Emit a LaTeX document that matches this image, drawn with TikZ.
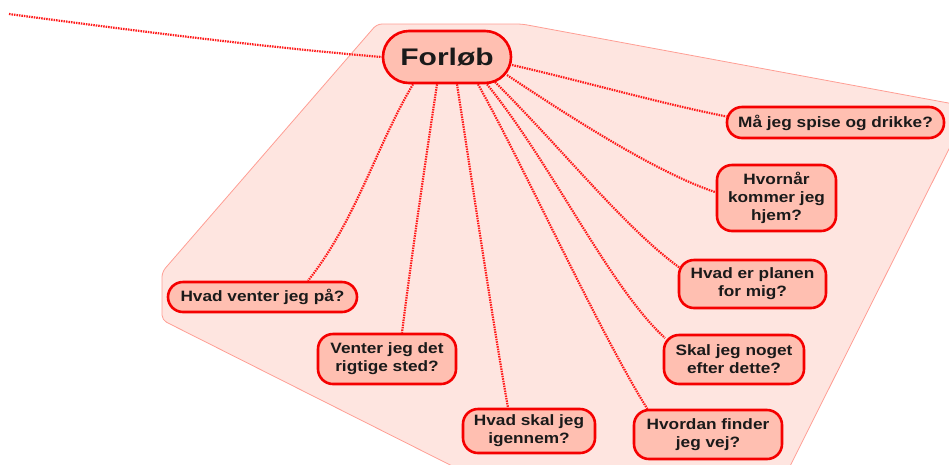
\documentclass[tikz,border=0pt]{standalone}
\usepackage{fontspec}
\usetikzlibrary{backgrounds}
\newfontfamily\nodefont[FakeStretch=1.15]{Liberation Sans}
\newfontfamily\rootfont[FakeStretch=1.25]{Liberation Sans}
\definecolor{zone}{HTML}{FEE5E0}
\definecolor{zoneedge}{HTML}{FF9E94}
\definecolor{topicfill}{HTML}{FFBFB1}
\definecolor{topicedge}{HTML}{F50000}
\definecolor{ink}{HTML}{1A1A1A}
\definecolor{linkred}{HTML}{FF1A1A}
\tikzset{
  topic/.style={draw=topicedge, line width=2.6pt, fill=topicfill, rounded corners=15pt,
    align=center, inner sep=0pt, text=ink,
    font=\nodefont\bfseries\fontsize{15}{18}\selectfont},
  root/.style={topic, rounded corners=26pt,
    font=\rootfont\bfseries\fontsize{24}{28}\selectfont},
  link/.style={draw=linkred, line width=2.2pt, dash pattern=on 1.5pt off 1pt},
}
\begin{document}
\begin{tikzpicture}[x=1pt,y=-1pt]
\useasboundingbox (0,0) rectangle (949,464);

% topics
\node[root, minimum width=128pt, minimum height=52pt] (f) at (447,57) {Forløb};
\node[topic, minimum width=217pt, minimum height=31pt, rounded corners=15pt] (q1) at (835.5,122.5) {Må jeg spise og drikke?};
\node[topic, minimum width=119pt, minimum height=66pt] (q2) at (776.5,198) {Hvornår\\kommer jeg\\hjem?};
\node[topic, minimum width=147pt, minimum height=48pt] (q3) at (752.5,284) {Hvad er planen\\for mig?};
\node[topic, minimum width=140pt, minimum height=49pt] (q4) at (734,359.5) {Skal jeg noget\\efter dette?};
\node[topic, minimum width=148pt, minimum height=49pt] (q5) at (708,434.5) {Hvordan finder\\jeg vej?};
\node[topic, minimum width=132pt, minimum height=44pt] (q6) at (529,431) {Hvad skal jeg\\igennem?};
\node[topic, minimum width=138pt, minimum height=50pt] (q7) at (387,359) {Venter jeg det\\rigtige sted?};
\node[topic, minimum width=189pt, minimum height=30pt, rounded corners=15pt] (q8) at (262.5,297) {Hvad venter jeg på?};
\coordinate (up) at (9,14);

\begin{scope}[on background layer]
  % boundary of the group
  \fill[zone, draw=zoneedge, line width=0.8pt, rounded corners=5pt]
    (377,24) -- (522,24) -- (970,107) -- (763,520) -- (480,480)
    -- (162,320) -- (162,272) -- cycle;
  % branches
  \draw[link] (up) .. controls +(120,16) and +(-120,-10) .. (f.west);
  \draw[link] ([shift={(65,8)}]f.center) .. controls +(70,16) and +(-70,-14) .. ([shift={(-109,-6)}]q1.center);
  \draw[link] ([shift={(60,18)}]f.center) .. controls +(60,40) and +(-60,-20) .. ([shift={(-61.5,-6)}]q2.center);
  \draw[link] ([shift={(48,25)}]f.center) .. controls +(70,70) and +(-55,-40) .. ([shift={(-72.5,-16)}]q3.center);
  \draw[link] ([xshift=40pt]f.south) .. controls +(65,80) and +(-55,-50) .. ([shift={(-69,-21.5)}]q4.center);
  \draw[link] ([xshift=31pt]f.south) .. controls +(45,80) and +(-50,-80) .. ([shift={(-60,-24.5)}]q5.center);
  \draw[link] ([xshift=10pt]f.south) .. controls +(14,90) and +(-16,-90) .. ([xshift=-21pt]q6.north);
  \draw[link] ([xshift=-10pt]f.south) .. controls +(-12,80) and +(10,-80) .. ([xshift=15pt]q7.north);
  \draw[link] ([xshift=-34pt]f.south) .. controls +(-36,60) and +(48,-60) .. ([xshift=45.5pt]q8.north);
\end{scope}
\end{tikzpicture}
\end{document}
